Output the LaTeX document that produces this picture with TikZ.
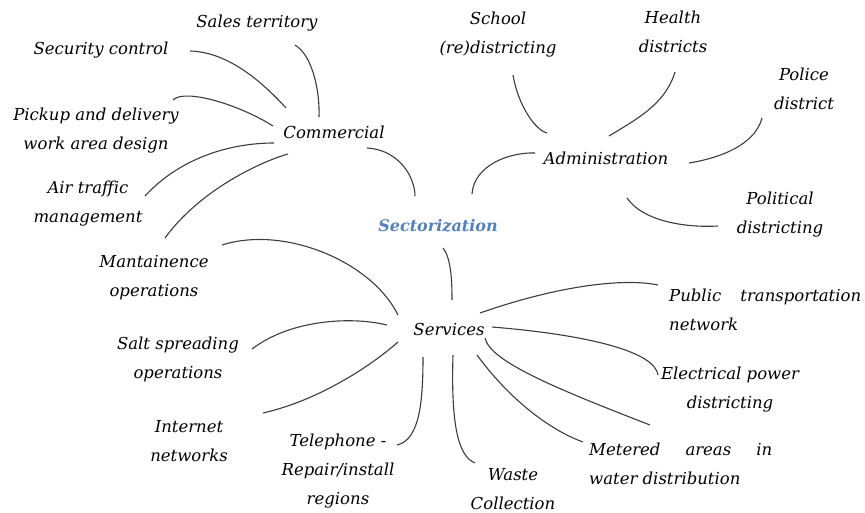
\documentclass[tikz,border=0pt]{standalone}
\usepackage{fontspec}
\setmainfont{DejaVu Serif}
\definecolor{sectblue}{RGB}{84,130,185}
\definecolor{linegray}{RGB}{60,60,60}
\tikzset{
  lbl/.style={inner sep=0pt, align=center, font=\itshape\fontsize{16.5}{29}\selectfont, text=black},
  lbll/.style={lbl, align=left, anchor=west},
  conn/.style={draw=linegray, line width=1.1pt},
}
\begin{document}
\begin{tikzpicture}[x=1pt,y=-1pt]
\useasboundingbox (0,0) rectangle (865,512);
% labels
\node[lbl] (sales) at (257,23) {Sales territory};
\node[lbl] (secur) at (101,50) {Security control};
\node[lbl] (pick) at (96,131) {Pickup and delivery\\work area design};
\node[lbl] (comm) at (334,132) {Commercial};
\node[lbl] (air) at (88,204) {Air traffic\\management};
\node[lbl, font=\itshape\bfseries\fontsize{16}{29}\selectfont, text=sectblue] (sect) at (438,226) {Sectorization};
\node[lbl] (mant) at (154,278) {Mantainence\\operations};
\node[lbl] (salt) at (178,359) {Salt spreading\\operations};
\node[lbl] (inet) at (189,441) {Internet\\networks};
\node[lbl] (tele) at (338,471) {Telephone -\\Repair/install\\regions};
\node[lbl] (serv) at (449,329) {Services};
\node[lbl] (waste) at (513,489) {Waste\\Collection};
\node[lbll] (meter) at (589,464) {\makebox[183pt][l]{Metered\hfill areas\hfill in}\\water distribution};
\node[lbll] (pub) at (669,310) {\makebox[192pt][l]{Public\hfill transportation}\\network};
\node[lbl] (elec) at (730,390) {Electrical power\\districting};
\node[lbl] (school) at (498,35) {School\\(re)districting};
\node[lbl] (health) at (673,32) {Health\\districts};
\node[lbl] (police) at (804,89) {Police\\district};
\node[lbl] (admin) at (606,158) {Administration};
\node[lbl] (polit) at (780,215) {Political\\districting};
% connector end points
\coordinate (c1a) at (190,51);  \coordinate (c1b) at (286,108);
\coordinate (c2a) at (295,45);  \coordinate (c2b) at (319,117);
\coordinate (c3a) at (173,100); \coordinate (c3b) at (273,126);
\coordinate (c4a) at (145,196); \coordinate (c4b) at (274,143);
\coordinate (c5a) at (165,238); \coordinate (c5b) at (288,154);
\coordinate (c6a) at (367,148); \coordinate (c6b) at (415,196);
\coordinate (c7a) at (472,194); \coordinate (c7b) at (535,153);
\coordinate (c8a) at (513,75);  \coordinate (c8b) at (547,133);
\coordinate (c9a) at (675,72);  \coordinate (c9b) at (609,136);
\coordinate (c10a) at (762,118); \coordinate (c10b) at (689,163);
\coordinate (c11a) at (627,198); \coordinate (c11b) at (718,226);
\coordinate (c12a) at (443,248); \coordinate (c12b) at (452,300);
\coordinate (c13a) at (222,245); \coordinate (c13b) at (398,315);
\coordinate (c14a) at (252,349); \coordinate (c14b) at (387,325);
\coordinate (c15a) at (263,413); \coordinate (c15b) at (398,342);
\coordinate (c16a) at (397,445); \coordinate (c16b) at (423,357);
\coordinate (c17a) at (480,313); \coordinate (c17b) at (658,285);
\coordinate (c18a) at (492,327); \coordinate (c18b) at (658,375);
\coordinate (c19a) at (485,338); \coordinate (c19b) at (650,425);
\coordinate (c20a) at (477,355); \coordinate (c20b) at (583,442);
\coordinate (c21a) at (453,355); \coordinate (c21b) at (475,463);
% connectors
\draw[conn] (c1a) .. controls (230,52) and (265,85) .. (c1b);
\draw[conn] (c2a) .. controls (312,55) and (320,90) .. (c2b);
\draw[conn] (c3a) .. controls (185,88) and (240,105) .. (c3b);
\draw[conn] (c4a) .. controls (180,158) and (230,143) .. (c4b);
\draw[conn] (c5a) .. controls (200,190) and (260,162) .. (c5b);
\draw[conn] (c6a) .. controls (400,150) and (415,178) .. (c6b);
\draw[conn] (c7a) .. controls (474,165) and (510,152) .. (c7b);
\draw[conn] (c8a) .. controls (518,105) and (535,130) .. (c8b);
\draw[conn] (c9a) .. controls (665,105) and (635,120) .. (c9b);
\draw[conn] (c10a) .. controls (755,145) and (720,158) .. (c10b);
\draw[conn] (c11a) .. controls (642,220) and (682,228) .. (c11b);
\draw[conn] (c12a) .. controls (451,258) and (452,280) .. (c12b);
\draw[conn] (c13a) .. controls (285,225) and (372,262) .. (c13b);
\draw[conn] (c14a) .. controls (290,320) and (350,316) .. (c14b);
\draw[conn] (c15a) .. controls (320,400) and (372,365) .. (c15b);
\draw[conn] (c16a) .. controls (420,440) and (423,400) .. (c16b);
\draw[conn] (c17a) .. controls (560,285) and (625,278) .. (c17b);
\draw[conn] (c18a) .. controls (590,335) and (655,352) .. (c18b);
\draw[conn] (c19a) .. controls (490,362) and (560,390) .. (c19b);
\draw[conn] (c20a) .. controls (510,400) and (550,430) .. (c20b);
\draw[conn] (c21a) .. controls (451,420) and (457,456) .. (c21b);
\end{tikzpicture}
\end{document}
